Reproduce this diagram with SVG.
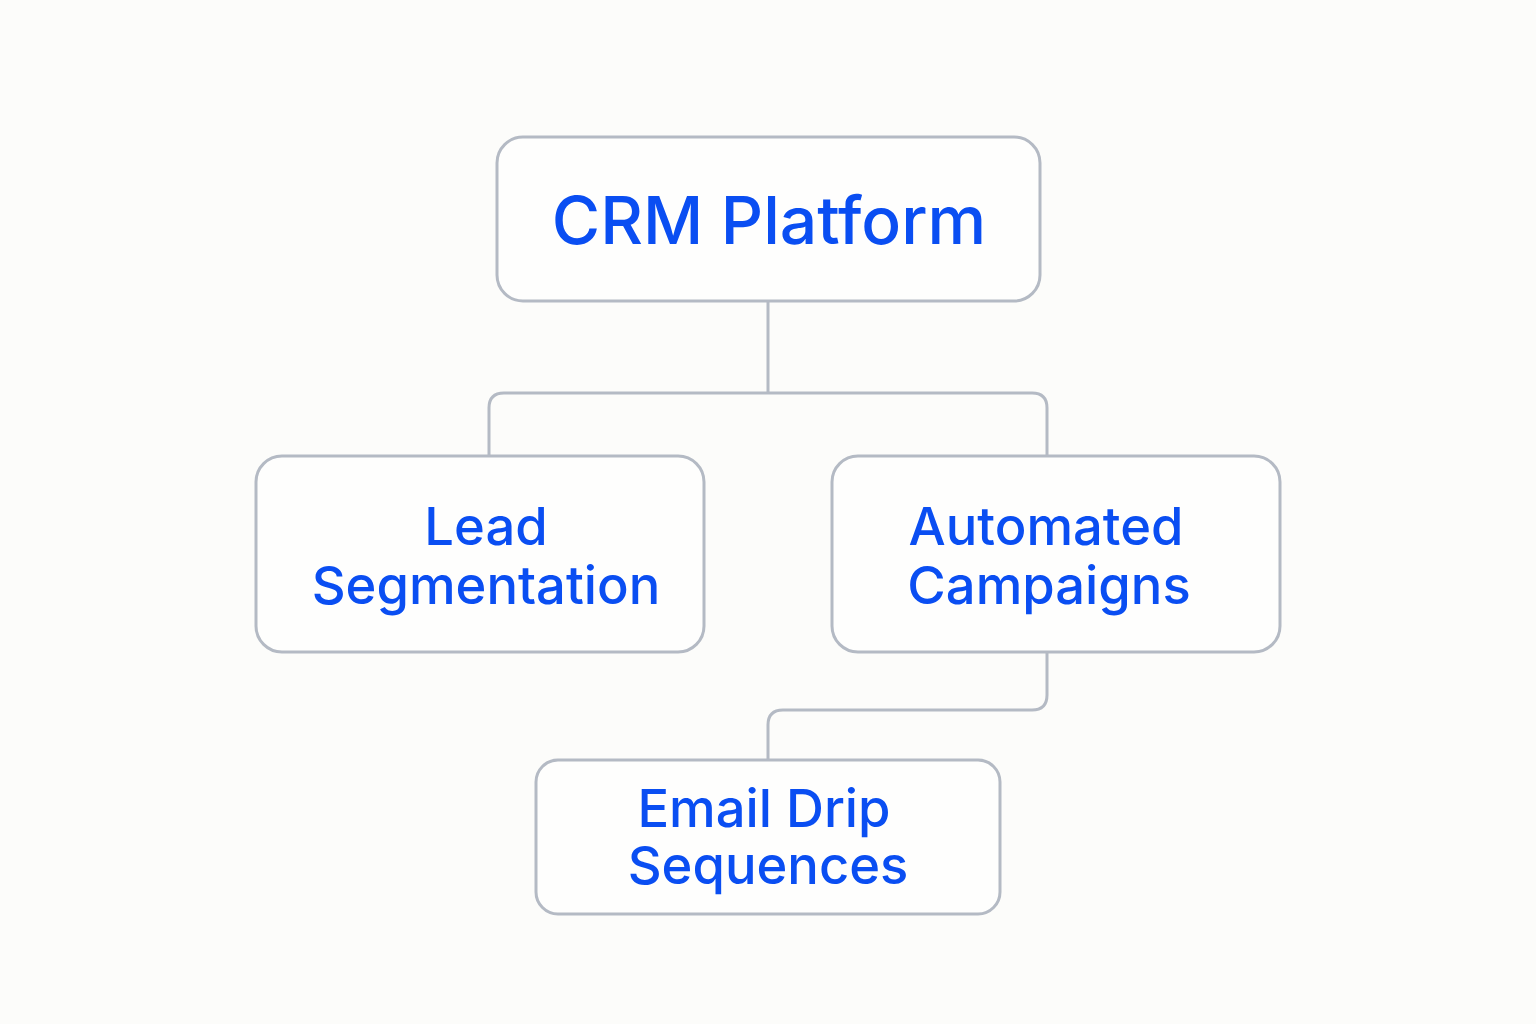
<svg xmlns="http://www.w3.org/2000/svg" width="1536" height="1024" viewBox="0 0 1536 1024">
<style>
.box{fill:#fefefd;stroke:#b4bac4;stroke-width:3}
.conn{fill:none;stroke:#b4bac4;stroke-width:3}
text{font-family:Inter,"Noto Sans",sans-serif;fill:#0a4ef2;text-anchor:middle;font-weight:500}
.big{font-size:66px}
.mid{font-size:52.5px}
</style>
<rect width="1536" height="1024" fill="#fcfcfa"/>
<g id="connectors">
<path class="conn" d="M768 301 V393"/>
<path class="conn" d="M489 456 V408 Q489 393 504 393 H1032 Q1047 393 1047 408 V456"/>
<path class="conn" d="M1047 652 V695 Q1047 710 1032 710 H783 Q768 710 768 725 V760"/>
</g>
<g id="crm">
<rect class="box" x="497" y="137" width="543" height="164" rx="26"/>
<text class="big" x="769" y="244">CRM Platform</text>
</g>
<g id="lead">
<rect class="box" x="256" y="456" width="448" height="196" rx="26"/>
<text class="mid" x="486" y="545">Lead</text>
<text class="mid" x="486" y="604">Segmentation</text>
</g>
<g id="auto">
<rect class="box" x="832" y="456" width="448" height="196" rx="26"/>
<text class="mid" x="1046" y="545">Automated</text>
<text class="mid" x="1049" y="604">Campaigns</text>
</g>
<g id="email">
<rect class="box" x="536" y="760" width="464" height="154" rx="22"/>
<text class="mid" x="764" y="827">Email Drip</text>
<text class="mid" x="768" y="884">Sequences</text>
</g>
</svg>
